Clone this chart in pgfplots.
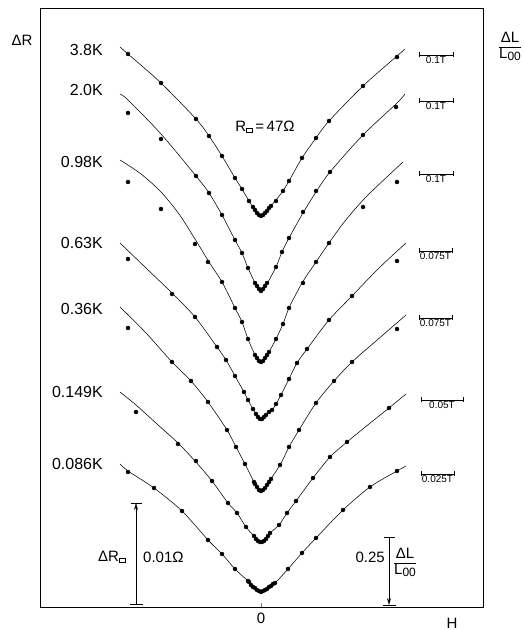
\documentclass[border=0pt]{standalone}
\usepackage{pgfplots}
\pgfplotsset{compat=1.18}
\usepackage{fontspec}
\setmainfont{Liberation Sans}
\usetikzlibrary{arrows.meta}
\newcommand{\sq}{\raisebox{-0.5pt}{\fboxsep=0pt\fboxrule=0.9pt\fbox{\rule{0pt}{3.5pt}\hspace{5pt}}}}
\newcommand{\fs}[1]{\fontsize{#1}{#1}\selectfont}
\newcommand{\dlfrac}{\renewcommand{\arraystretch}{1.05}\begin{tabular}{@{}c@{}}ΔL\\\hline L\raisebox{-2pt}{\fs{12}00}\end{tabular}}
\tikzset{sbar/.style={line width=0.5pt, {Bar[width=5pt]}-{Bar[width=5pt]}},
  slab/.style={below, font=\fs{10}, inner sep=1.4pt},
  tlab/.style={anchor=east, font=\fs{16}, inner sep=0pt}}
\pgfplotsset{fit/.style={black, line width=0.55pt, smooth, tension=0.5, no marks},
  pts/.style={black, only marks, mark=*, mark size=2pt}}
\begin{document}
\begin{tikzpicture}
\useasboundingbox (0,0) rectangle (523pt,630pt);
\begin{axis}[at={(40pt,23pt)}, anchor=south west,
  width=443pt, height=599pt, scale only axis,
  xmin=-221, xmax=222, ymin=0, ymax=599,
  axis line style={line width=0.6pt},
  xtick={0}, xticklabels={0}, ytick=\empty,
  xtick pos=bottom, tick align=inside, major tick length=4pt,
  xticklabel style={font=\fs{15}, yshift=-2pt},
  clip=false]
% 3.8 K
\addplot[fit] coordinates {(-141,560) (-133,553) (-100,524) (-65,488) (-52,471) (-39,451) (-26,429) (-19,418) (-12,406) (-6,397) (-3,393) (0,391) (3,393) (7,398) (15,407) (22,416) (28,426) (41,449) (55,469) (68,486) (102,521) (136,551) (144,558)};
\addplot[pts] coordinates {(-133,553) (-100,524) (-65,488) (-52,471) (-39,451) (-26,429) (-19,418) (-12,406) (-8,400) (-6,397) (-4,394) (-2,392) (0,391) (2,392) (4,394) (6,396) (8,399) (10,401) (15,406) (22,416) (28,426) (41,449) (55,469) (68,486) (102,521) (136,550)};
% 2.0 K
\addplot[fit] coordinates {(-141,513) (-133,507) (-100,473) (-65,431) (-52,414) (-39,392) (-26,367) (-19,354) (-13,339) (-6,324) (-3,319) (0,316) (3,319) (7,325) (15,340) (21,355) (28,369) (42,394) (55,415) (69,435) (102,472) (136,504) (144,513)};
\addplot[pts] coordinates {(-133,494) (-100,468) (-65,431) (-52,414) (-39,392) (-26,367) (-19,354) (-13,339) (-6,324) (-4,321) (-2,318) (0,316) (2,318) (4,321) (6,324) (15,340) (21,355) (28,369) (42,395) (55,416) (69,435) (102,472) (135,500)};
% 0.98 K
\addplot[fit] coordinates {(-141,447) (-120,433) (-100,415) (-82,393) (-66,368) (-52,345) (-39,325) (-26,299) (-19,285) (-13,268) (-6,252) (-3,247) (0,245) (3,247) (7,253) (15,268) (22,283) (28,299) (41,324) (55,345) (68,364) (84,386) (106,411) (142,445)};
\addplot[pts] coordinates {(-133,425) (-100,398) (-66,363) (-53,345) (-39,325) (-26,299) (-19,285) (-13,268) (-6,252) (-4,249) (-2,246) (0,245) (2,246) (4,249) (6,252) (8,255) (15,268) (22,283) (28,299) (42,324) (55,345) (68,364) (102,400) (136,425)};
% 0.63 K
\addplot[fit] coordinates {(-141,364) (-115,339) (-89,314) (-66,290) (-44,260) (-35,247) (-26,231) (-17,215) (-13,207) (-8,198) (-3,190) (0,188) (3,190) (11,197) (15,203) (20,212) (28,228) (36,244) (46,258) (68,287) (91,311) (118,339) (145,364)};
\addplot[pts] coordinates {(-133,348) (-89,313) (-66,290) (-44,260) (-35,247) (-26,231) (-17,215) (-13,207) (-8,198) (-5,193) (-3,190) (-1,188) (1,188) (3,190) (5,192) (8,195) (11,197) (15,203) (20,212) (28,228) (36,244) (46,258) (68,287) (91,311) (136,346)};
% 0.36 K
\addplot[fit] coordinates {(-141,300) (-115,274) (-89,245) (-70,226) (-53,205) (-34,177) (-25,160) (-16,143) (-7,125) (-3,119) (0,116) (3,118) (7,124) (19,142) (28,160) (38,177) (55,204) (73,226) (91,245) (115,266) (145,292)};
\addplot[pts] coordinates {(-133,279) (-89,245) (-70,226) (-53,205) (-34,177) (-25,160) (-16,143) (-7,125) (-6,123) (-4,120) (-2,117) (0,116) (2,117) (4,119) (6,122) (8,125) (10,128) (19,142) (28,160) (38,177) (55,204) (73,226) (91,245) (136,278)};
% 0.149 K
\addplot[fit] coordinates {(-141,215) (-125,202) (-104,183) (-83,164) (-66,146) (-49,126) (-33,104) (-24,94) (-15,80) (-7,71) (-3,66) (0,65) (3,67) (9,74) (18,82) (26,94) (35,106) (52,129) (69,150) (86,165) (108,183) (128,199) (145,213)};
\addplot[pts] coordinates {(-125,195) (-83,163) (-65,146) (-49,126) (-33,104) (-24,94) (-15,80) (-7,71) (-5,68) (-3,66) (-1,65) (1,65) (3,66) (5,68) (7,71) (9,74) (18,82) (26,94) (35,106) (52,129) (69,150) (86,165) (128,199)};
% 0.086 K
\addplot[fit] coordinates {(-141,143) (-133,136) (-107,119) (-79,96) (-53,67) (-39,53) (-26,38) (-13,26) (-6,19) (0,16) (6,19) (14,24) (27,38) (41,54) (55,69) (82,97) (109,120) (136,136) (145,141)};
\addplot[pts] coordinates {(-133,135) (-107,119) (-79,96) (-53,67) (-39,53) (-26,38) (-13,26) (-12,25) (-10,22) (-8,20) (-6,19) (-4,17) (-2,16) (0,15) (2,16) (4,17) (6,18) (8,20) (10,21) (12,23) (14,24) (27,38) (41,54) (55,69) (82,97) (109,120) (136,136)};

% labels
\node[font=\fs{15}] at (axis cs:-239,567) {ΔR};
\node[tlab] at (axis cs:-158,557) {3.8K};
\node[tlab] at (axis cs:-158,517) {2.0K};
\node[tlab] at (axis cs:-158,445) {0.98K};
\node[tlab] at (axis cs:-158,364) {0.63K};
\node[tlab] at (axis cs:-158,298) {0.36K};
\node[tlab] at (axis cs:-158,215) {0.149K};
\node[tlab] at (axis cs:-158,143) {0.086K};
\node[font=\fs{15}] at (axis cs:4,480) {R\sq\,=\,47Ω};
\node[font=\fs{15}, inner sep=0pt] at (axis cs:249,560) {\dlfrac};
% field scale bars
\draw[sbar] (axis cs:158,552) -- (axis cs:192,552); \node[slab] at (axis cs:175,552) {0.1T};
\draw[sbar] (axis cs:158,506) -- (axis cs:192,506); \node[slab] at (axis cs:175,506) {0.1T};
\draw[sbar] (axis cs:158,433) -- (axis cs:192,433); \node[slab] at (axis cs:175,433) {0.1T};
\draw[sbar] (axis cs:158,356) -- (axis cs:191,356); \node[slab] at (axis cs:174.5,356) {0.075T};
\draw[sbar] (axis cs:158,289) -- (axis cs:191,289); \node[slab] at (axis cs:174.5,289) {0.075T};
\draw[sbar] (axis cs:160,207) -- (axis cs:202,207); \node[slab] at (axis cs:181,207) {0.05T};
\draw[sbar] (axis cs:160,133) -- (axis cs:193,133); \node[slab] at (axis cs:176.5,133) {0.025T};
% vertical scale arrows
\draw[line width=0.5pt, -{Stealth[length=7pt,width=4pt]}] (axis cs:-125,3) -- (axis cs:-125,104);
\draw[line width=0.5pt] (axis cs:-130,104) -- (axis cs:-119,104);
\draw[line width=0.5pt] (axis cs:-131,3) -- (axis cs:-118,3);
\node[anchor=east, font=\fs{15}, inner sep=0pt] at (axis cs:-135,50) {ΔR\sq};
\node[anchor=west, font=\fs{15}, inner sep=0pt] at (axis cs:-118,50) {0.01Ω};
\draw[line width=0.5pt, -{Stealth[length=7pt,width=4pt]}] (axis cs:128,70) -- (axis cs:128,2);
\draw[line width=0.5pt] (axis cs:123,70) -- (axis cs:134,70);
\draw[line width=0.5pt] (axis cs:122,2) -- (axis cs:135,2);
\node[anchor=east, font=\fs{15}, inner sep=0pt] at (axis cs:124,50) {0.25};
\node[anchor=west, font=\fs{15}, inner sep=0pt] at (axis cs:133,44) {\dlfrac};
\node[font=\fs{15}] at (axis cs:191,-16) {H};
\end{axis}
\end{tikzpicture}
\end{document}
